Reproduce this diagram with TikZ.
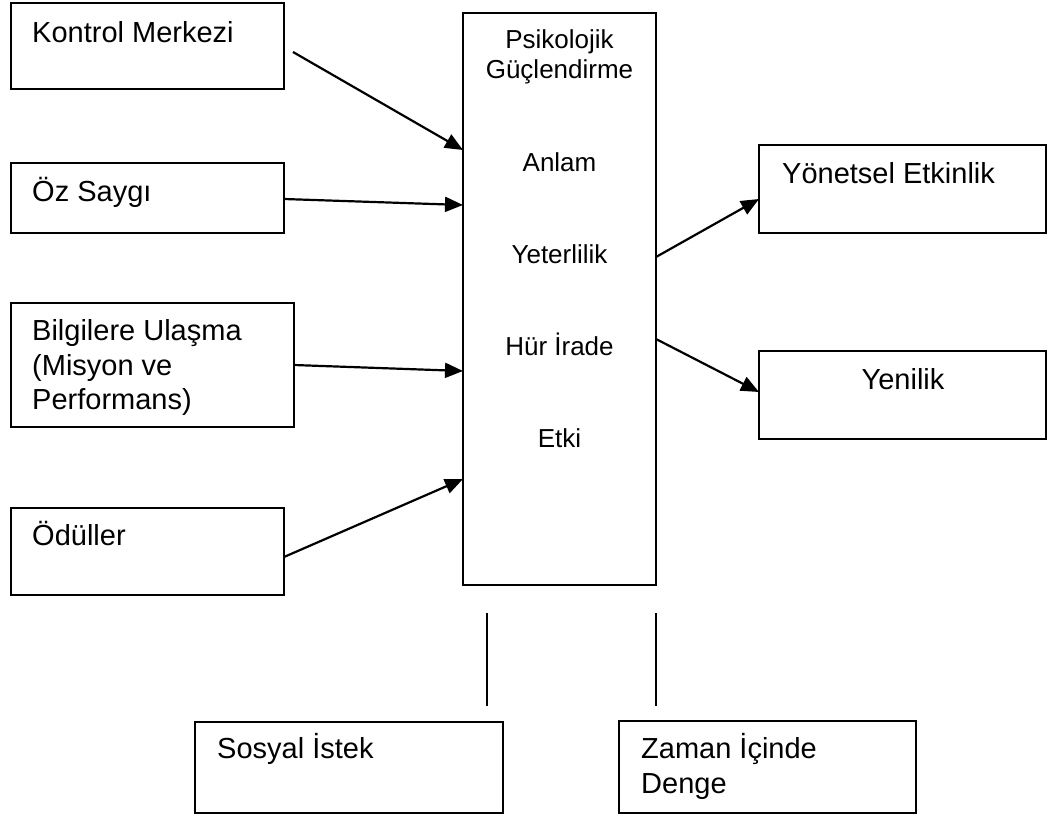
\documentclass[tikz,border=0pt]{standalone}
\usepackage{fontspec}
\setmainfont{Liberation Sans}
\usetikzlibrary{arrows.meta,calc}
\begin{document}
\begin{tikzpicture}[x=1pt,y=-1pt,
  box/.style={draw=black,line width=2pt,rectangle,inner sep=0pt,outer sep=0pt,fill=none},
  lbl/.style={inner sep=0pt,anchor=base west,font=\fontsize{29}{35}\selectfont},
  clbl/.style={inner sep=0pt,anchor=base,font=\fontsize{26}{30}\selectfont},
  arr/.style={line width=2.2pt,-{Triangle[length=18pt,width=15pt]}},
  tie/.style={line width=1.8pt}]
\fill[white] (0,0) rectangle (1052,814);
\useasboundingbox (0,0) rectangle (1052,814);
% boxes
\node[box,minimum width=273pt,minimum height=86pt] (kontrol) at (147.5,46) {};
\node[box,minimum width=273pt,minimum height=70pt] (oz) at (147.5,198) {};
\node[box,minimum width=283pt,minimum height=124pt] (bilgi) at (152.5,365) {};
\node[box,minimum width=273pt,minimum height=87pt] (odul) at (147.5,551.5) {};
\node[box,minimum width=193pt,minimum height=572pt] (center) at (559.5,299) {};
\node[box,minimum width=287pt,minimum height=88pt] (yon) at (902.5,189) {};
\node[box,minimum width=287pt,minimum height=88pt] (yen) at (902.5,395) {};
\node[box,minimum width=308pt,minimum height=91pt] (sosyal) at (349,767.5) {};
\node[box,minimum width=297pt,minimum height=92pt] (zaman) at (767.5,767) {};
% texts
\node[lbl] (kontrolT) at (32,42) {Kontrol Merkezi};
\node[lbl] (ozT) at (32,201) {Öz Saygı};
\node[lbl] (bilgiT1) at (32,340) {Bilgilere Ulaşma};
\node[lbl] (bilgiT2) at (32,375) {(Misyon ve};
\node[lbl] (bilgiT3) at (32,409) {Performans)};
\node[lbl] (odulT) at (32,545) {Ödüller};
\node[lbl] (yonT) at (782,183) {Yönetsel Etkinlik};
\node[lbl,anchor=base] (yenT) at (903,389) {Yenilik};
\node[lbl] (sosyalT) at (217,758) {Sosyal İstek};
\node[lbl] (zamanT1) at (641,758) {Zaman İçinde};
\node[lbl] (zamanT2) at (641,793) {Denge};
\node[clbl] (c1) at (559.5,48) {Psikolojik};
\node[clbl] (c2) at (559.5,78) {Güçlendirme};
\node[clbl] (c3) at (559.5,171) {Anlam};
\node[clbl] (c4) at (559.5,263) {Yeterlilik};
\node[clbl] (c5) at (559.5,355) {Hür İrade};
\node[clbl] (c6) at (559.5,447) {Etki};
% arrows in
\draw[arr] ($(kontrol.east)+(9,6)$) -- ($(center.north west)+(0,137)$);
\draw[arr] ($(oz.east)+(0,1)$) -- ($(center.north west)+(0,192)$);
\draw[arr] (bilgi.east) -- ($(center.north west)+(0,358)$);
\draw[arr] ($(odul.east)+(0,5.5)$) -- ($(center.north west)+(0,466)$);
% arrows out
\draw[arr] ($(center.north east)+(0,244)$) -- ($(yon.west)+(0,10)$);
\draw[arr] ($(center.north east)+(0,326)$) -- ($(yen.west)+(0,-3)$);
% ties to bottom boxes
\draw[tie] ($(center.south west)+(24,28)$) -- ($(sosyal.north east)+(-16,-16)$);
\draw[tie] ($(center.south east)+(0,28)$) -- ($(zaman.north west)+(37,-15)$);
\end{tikzpicture}
\end{document}
